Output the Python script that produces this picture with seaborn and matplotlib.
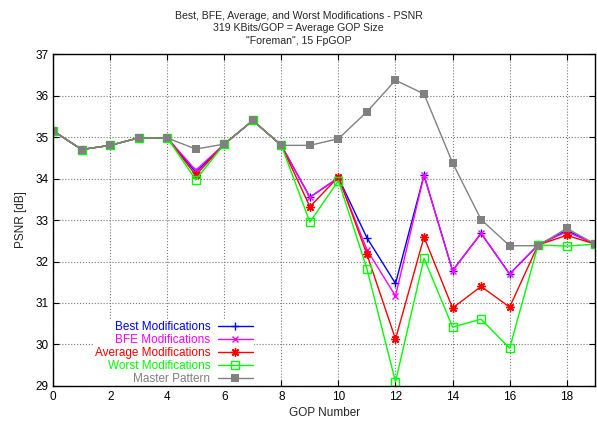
import numpy as np
import pandas as pd
import matplotlib
matplotlib.use('Agg')
import matplotlib.pyplot as plt
import seaborn as sns

# Data
gop = list(range(20))
best = [35.15, 34.70, 34.80, 34.98, 34.98, 34.15, 34.83, 35.40, 34.80, 33.55,
        34.02, 32.57, 31.47, 34.08, 31.78, 32.68, 31.70, 32.40, 32.75, 32.42]
bfe = [35.15, 34.70, 34.80, 34.98, 34.98, 34.20, 34.83, 35.40, 34.80, 33.55,
       34.02, 32.28, 31.17, 34.08, 31.78, 32.68, 31.70, 32.40, 32.72, 32.42]
average = [35.15, 34.70, 34.80, 34.98, 34.98, 34.08, 34.83, 35.40, 34.80, 33.32,
           34.04, 32.17, 30.13, 32.59, 30.88, 31.40, 30.90, 32.40, 32.63, 32.42]
worst = [35.15, 34.70, 34.80, 34.98, 34.98, 33.97, 34.83, 35.40, 34.80, 32.95,
         33.95, 31.82, 29.10, 32.08, 30.42, 30.61, 29.91, 32.40, 32.37, 32.42]
master = [35.15, 34.70, 34.80, 34.98, 34.98, 34.71, 34.83, 35.40, 34.80, 34.80,
          34.96, 35.61, 36.37, 36.04, 34.38, 33.01, 32.38, 32.38, 32.80, 32.42]

labels = ['Best Modifications', 'BFE Modifications', 'Average Modifications',
          'Worst Modifications', 'Master Pattern']
series = [best, bfe, average, worst, master]
colors = ['#0000ff', '#ff00ff', '#ff0000', '#00ff00', '#808080']
markers = ['+', 'x', (8, 2, 0), 's', 's']
msizes = [6, 5, 6, 6, 5.5]
faces = ['#0000ff', '#ff00ff', '#ff0000', 'none', '#808080']

sns.set_style('ticks')
plt.rcParams['font.family'] = ['Liberation Sans', 'DejaVu Sans']
plt.rcParams['font.size'] = 8

fig = plt.figure(figsize=(5.97, 4.26), dpi=100)
ax = fig.add_axes([0.089, 0.094, 0.908, 0.779])

for vals, lab, c, m, s, fc in zip(series, labels, colors, markers, msizes, faces):
    df = pd.DataFrame({'GOP': gop, 'PSNR': vals})
    sns.lineplot(data=df, x='GOP', y='PSNR', ax=ax, label=lab, color=c,
                 linewidth=1.0, marker=m, markersize=s, markerfacecolor=fc,
                 markeredgecolor=c, markeredgewidth=(0 if lab == 'Master Pattern' else 1.0))

ax.set_xlim(0, 19)
ax.set_ylim(29, 37)
ax.set_xticks(range(0, 19, 2))
ax.set_yticks(range(29, 38))
ax.tick_params(direction='in', top=True, right=True, length=4, width=0.8,
               labelsize=8.5, colors='black')
ax.grid(True, linestyle=':', color='#777777', linewidth=0.8)
ax.set_axisbelow(True)
for sp in ax.spines.values():
    sp.set_linewidth(1.0)
    sp.set_color('black')

ax.set_xlabel('GOP Number', fontsize=8.5, labelpad=3)
ax.set_ylabel('PSNR [dB]', fontsize=8.5, labelpad=6)
fig.suptitle('Best, BFE, Average, and Worst Modifications - PSNR\n'
             '319 KBits/GOP = Average GOP Size\n'
             '"Foreman", 15 FpGOP', fontsize=7.6, y=0.974, linespacing=1.3)

leg = ax.legend(loc='lower left', bbox_to_anchor=(0.075, 0.0), markerfirst=False,
                labelcolor='linecolor', frameon=True, fancybox=False,
                framealpha=1, edgecolor='none', facecolor='white',
                fontsize=8.5, handlelength=3.0, handletextpad=0.6,
                labelspacing=0.08, borderpad=0.1, borderaxespad=0.0)
leg.set_zorder(2.4)

fig.savefig('out.png', dpi=100)
